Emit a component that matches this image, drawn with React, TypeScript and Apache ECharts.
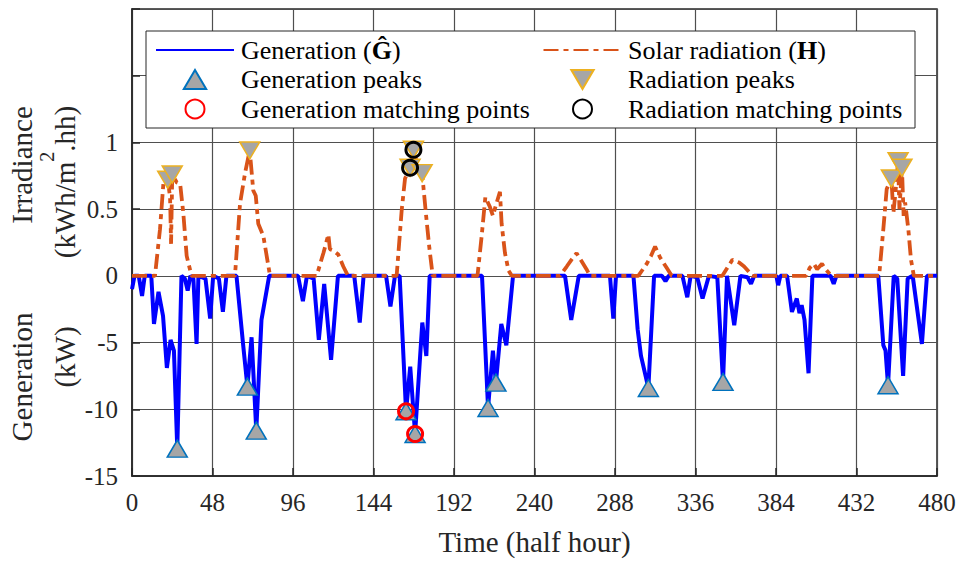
import React, { useEffect, useRef } from 'react';
import * as echarts from 'echarts';

// ---- data (time in half hours) ----
const generation: [number, number][] = [
  [0, -1.0], [1.5, 0], [4, 0], [6, -1.5], [7.6, 0], [11.5, 0], [13.1, -3.6], [15.8, -1.2], [18.5, -3.0],
  [20.8, -6.9], [23, -4.8], [25, -5.6], [27, -12.95], [29.5, 0], [31.5, -0.2], [33.2, -1.1], [34.8, 0],
  [36.6, -0.2], [38.5, -5.1], [39.6, 0], [43.8, -0.2], [46.6, -3.2], [48.4, 0], [51.8, -0.2], [54.2, -2.7],
  [56.3, 0], [62.3, 0], [66.3, -5.2], [68.8, -8.3], [71.3, -4.6], [74.1, -11.6], [77.2, -3.3], [81.8, 0],
  [99, 0], [101.9, -1.9], [104.3, 0], [108.3, -0.2], [111.4, -4.8], [114.6, -0.6], [118.7, -6.3], [122.8, 0],
  [132.5, 0], [135.8, -3.5], [138.1, 0], [151.5, 0], [154.1, -2.3], [156.8, 0], [159.6, 0], [163.4, -10.15],
  [165.9, -6.8], [168.8, -11.85], [173.1, -3.5], [175.5, -6.0], [177.5, 0], [208.7, 0], [212.3, -9.9],
  [215.2, -5.6], [217, -8.0], [220.2, -3.6], [223.2, -5.2], [227.2, 0], [258.2, 0], [261.9, -3.3], [266.4, 0],
  [285, 0], [287, -3.2], [288.6, 0], [299, 0], [301.5, -4.0], [303.5, -6.0], [307.9, -8.4], [311.3, 0],
  [316, 0], [318.1, -0.4], [320, 0], [328.2, 0], [331.1, -1.6], [333.1, 0], [337, -0.1], [340.2, -1.7],
  [344, 0], [349, -0.1], [352.4, -7.95], [354.8, 0], [359.1, -3.7], [362.8, 0], [367, -0.1], [369.1, -0.6],
  [371, 0], [384.2, 0], [385.3, -0.7], [386.6, 0], [390.6, 0], [393.5, -2.7], [396.4, -1.7], [398, -2.8],
  [399.3, -2.2], [401, -3.3], [403.4, -7.3], [405.7, 0], [416.5, 0], [418.4, -0.6], [420, 0], [445, 0],
  [448, -5.2], [449.3, -5.6], [450.8, -8.2], [454.2, 0], [456.3, -0.2], [459.8, -7.5], [462.5, -0.2],
  [465.5, 0], [471, -5.1], [474, 0], [480, 0],
];

const irradiance: [number, number][] = [
  [0, 0], [13.7, 0], [16.7, 0.35], [18.7, 0.69], [21.3, 0.72], [22.7, 0.59], [23.3, 0.24], [24, 0.76],
  [26.7, 0.7], [28.7, 0.69], [30.6, 0.47], [32.6, 0.15], [35.5, 0], [61.4, 0], [64.4, 0.54], [67.4, 0.77],
  [70.2, 0.94], [72.3, 0.64], [73.8, 0.6], [75.3, 0.39], [78.3, 0.3], [82.3, 0], [110.1, 0], [114.1, 0.17],
  [117.1, 0.31], [118, 0.2], [120, 0.19], [123, 0.16], [126, 0.07], [128.8, 0], [157.8, 0], [160.8, 0.49],
  [162.8, 0.73], [165.8, 0.81], [167.8, 0.945], [170.5, 0.82], [173, 0.77], [175.3, 0.46], [177.3, 0.21],
  [179.3, 0], [206, 0], [208.5, 0.3], [210.7, 0.59], [213.3, 0.52], [215.2, 0.45], [217, 0.53], [219.4, 0.63],
  [220.4, 0.39], [222.4, 0.17], [224.5, 0.04], [226.5, 0], [255.2, 0], [259.2, 0.07], [262, 0.12],
  [265.1, 0.17], [268.1, 0.11], [271, 0.05], [273.1, 0], [301.9, 0], [306.9, 0.09], [309.5, 0.15],
  [311.9, 0.22], [314.8, 0.14], [318.8, 0.06], [321.8, 0], [352, 0], [355, 0.06], [358, 0.12], [360, 0.11],
  [362, 0.1], [365, 0.07], [370, 0], [402, 0], [404.1, 0.06], [406.6, 0.09], [408.5, 0.05], [411.4, 0.09],
  [413.5, 0.05], [417, 0], [445.5, 0], [448, 0.35], [450, 0.65], [452.8, 0.73], [454, 0.47], [455.2, 0.62],
  [456.8, 0.86], [457.6, 0.5], [459.1, 0.81], [460.1, 0.45], [461, 0.55], [462.9, 0.35], [464.5, 0.12],
  [466.2, 0], [480, 0],
];

const generationPeaks: [number, number][] = [
  [27, -12.95], [68.8, -8.3], [74.1, -11.6], [163.4, -10.15], [168.8, -11.85],
  [212.3, -9.9], [217, -8.0], [307.9, -8.4], [352.4, -7.95], [450.8, -8.2],
];
const generationMatches: [number, number][] = [[163.4, -10.15], [168.8, -11.85]];

const radiationPeaks: [number, number][] = [
  [21.3, 0.72], [24, 0.76], [70.2, 0.94], [165.8, 0.81], [167.8, 0.945], [173, 0.77],
  [452.8, 0.73], [456.8, 0.86], [459.1, 0.81],
];
const radiationMatches: [number, number][] = [[165.8, 0.81], [167.8, 0.945]];

const xTickStep = 48;
const xRange = [0, 480];
const yRange = [-15, 20];
const yTickStep = 5;
const yTickLabels = ['-15', '-10', '-5', '0', '0.5', '1', '', ''];
const irradianceScale = 10; // 1 kWh/m2.hh plotted as 10 units on the shared axis

// legend labels: segments of [text, bold]
const legendColumns = [
  ['Generation', 'Generation peaks', 'Generation matching points'],
  ['Solar radiation', 'Radiation peaks', 'Radiation matching points'],
];
const legendLabels: Record<string, [string, boolean][]> = {
  'Generation': [['Generation (', false], ['Ĝ', true], [')', false]],
  'Generation peaks': [['Generation peaks', false]],
  'Generation matching points': [['Generation matching points', false]],
  'Solar radiation': [['Solar radiation (', false], ['H', true], [')', false]],
  'Radiation peaks': [['Radiation peaks', false]],
  'Radiation matching points': [['Radiation matching points', false]],
};
// y-axis unit label: segments of [text, superscript]
const irradianceUnit: [string, boolean][] = [['(kWh/m', false], ['2', true], ['.hh)', false]];

const FONT = 'Liberation Serif';
const UP_TRIANGLE = 'path://M10,0L20,17L0,17Z';
const DOWN_TRIANGLE = 'path://M0,0L20,0L10,17Z';
const NO_SYMBOL = { color: 'rgba(0,0,0,0)', borderColor: 'rgba(0,0,0,0)', borderWidth: 0, opacity: 0 };

export default function App() {
  const ref = useRef<HTMLDivElement>(null);
  useEffect(() => {
    if (!ref.current) return;
    const chart = echarts.init(ref.current, undefined, { renderer: 'svg' });
    const ctx = document.createElement('canvas').getContext('2d') as CanvasRenderingContext2D;
    const textWidth = (text: string, size: number, bold = false) => {
      ctx.font = `${bold ? 'bold ' : ''}${size}px "${FONT}", serif`;
      return ctx.measureText(text).width;
    };
    const scaled = (arr: [number, number][]) => arr.map(([t, v]) => [t, v * irradianceScale]);

    const legendLeft = [155, 542.5];
    const legendTextLeft = [241, 628];
    const legendRowY = [50, 79.5, 109];
    const legends = legendColumns.map((names, ci) => ({
      orient: 'vertical',
      left: legendLeft[ci],
      top: 35.5,
      padding: 0,
      itemWidth: 78,
      itemHeight: 19,
      itemGap: 0.5,
      selectedMode: false,
      z: 6,
      textStyle: { fontFamily: FONT, fontSize: 26, lineHeight: 29, color: '#000' },
      formatter: () => ' ',
      data: names.map((name, ri) => (ri === 0 ? { name, itemStyle: NO_SYMBOL } : name)),
    }));
    const legendTexts: any[] = [];
    legendColumns.forEach((names, ci) =>
      names.forEach((name, ri) => {
        let cx = legendTextLeft[ci];
        legendLabels[name].forEach(([text, bold]) => {
          legendTexts.push({
            type: 'text', z: 7, x: cx, y: legendRowY[ri],
            style: { text, fontFamily: FONT, fontSize: 26, fontWeight: bold ? 'bold' : 'normal', fill: '#000', align: 'left', verticalAlign: 'middle' },
          });
          cx += textWidth(text, 26, bold);
        });
      }),
    );

    const unitSizes = irradianceUnit.map(([, sup]) => (sup ? 20 : 29));
    const unitWidths = irradianceUnit.map(([t], i) => textWidth(t, unitSizes[i]));
    const unitTotal = unitWidths.reduce((a, b) => a + b, 0);
    let uy = 182 + unitTotal / 2;
    const unitTexts = irradianceUnit.map(([text, sup], i) => {
      const el = {
        type: 'text', x: sup ? 47 : 65, y: uy, rotation: Math.PI / 2,
        style: { text, fontFamily: FONT, fontSize: unitSizes[i], fill: '#262626', align: 'left', verticalAlign: 'middle' },
      };
      uy -= unitWidths[i];
      return el;
    });

    chart.setOption({
      animation: false,
      backgroundColor: '#fff',
      textStyle: { fontFamily: FONT },
      grid: {
        left: 132, right: 22, top: 9, bottom: 78.5,
        show: true, borderColor: '#262626', borderWidth: 1.5, backgroundColor: 'transparent',
      },
      xAxis: {
        type: 'value', min: xRange[0], max: xRange[1], interval: xTickStep,
        name: 'Time (half hour)', nameLocation: 'middle', nameGap: 51,
        nameTextStyle: { fontFamily: FONT, fontSize: 29, color: '#262626' },
        axisLine: { show: true, onZero: false, lineStyle: { color: '#262626', width: 1.5 } },
        axisTick: { show: true, inside: true, length: 8, lineStyle: { color: '#262626', width: 1.5 } },
        axisLabel: { fontFamily: FONT, fontSize: 25, color: '#262626', margin: 14 },
        splitLine: { show: true, lineStyle: { color: '#4f4f4f', width: 1.2 } },
      },
      yAxis: {
        type: 'value', min: yRange[0], max: yRange[1], interval: yTickStep,
        axisLine: { show: true, onZero: false, lineStyle: { color: '#262626', width: 1.5 } },
        axisTick: { show: true, inside: true, length: 8, lineStyle: { color: '#262626', width: 1.5 } },
        axisLabel: {
          fontFamily: FONT, fontSize: 25, color: '#262626', margin: 14,
          formatter: (v: number) => yTickLabels[Math.round((v - yRange[0]) / yTickStep)] ?? '',
        },
        splitLine: { show: true, lineStyle: { color: '#4f4f4f', width: 1.2 } },
      },
      legend: legends,
      graphic: {
        elements: [
          { type: 'rect', z: 3, shape: { x: 146, y: 31, width: 769, height: 97 },
            style: { fill: '#fff', stroke: '#262626', lineWidth: 1 } },
          ...legendTexts,
          { type: 'text', x: 22, y: 165, rotation: Math.PI / 2,
            style: { text: 'Irradiance', fontFamily: FONT, fontSize: 29, fill: '#262626', align: 'center', verticalAlign: 'middle' } },
          ...unitTexts,
          { type: 'text', x: 22, y: 377, rotation: Math.PI / 2,
            style: { text: 'Generation', fontFamily: FONT, fontSize: 29, fill: '#262626', align: 'center', verticalAlign: 'middle' } },
          { type: 'text', x: 65, y: 357, rotation: Math.PI / 2,
            style: { text: '(kW)', fontFamily: FONT, fontSize: 29, fill: '#262626', align: 'center', verticalAlign: 'middle' } },
        ],
      },
      series: [
        { name: 'Generation', type: 'line', data: generation, symbol: 'none', z: 2,
          lineStyle: { color: '#0000FF', width: 4 }, itemStyle: { color: '#0000FF' } },
        { name: 'Solar radiation', type: 'line', data: scaled(irradiance), symbol: 'none', z: 2,
          lineStyle: { color: '#D95319', width: 3.8, type: [15, 5, 5, 5] }, itemStyle: { color: '#D95319' } },
        { name: 'Generation peaks', type: 'scatter', data: generationPeaks, symbol: UP_TRIANGLE, symbolSize: [20, 17], z: 3,
          itemStyle: { color: '#A6A6A6', borderColor: '#0072BD', borderWidth: 1.5, opacity: 1 } },
        { name: 'Radiation peaks', type: 'scatter', data: scaled(radiationPeaks), symbol: DOWN_TRIANGLE, symbolSize: [20, 17], z: 3,
          itemStyle: { color: '#A6A6A6', borderColor: '#EDB120', borderWidth: 1.5, opacity: 1 } },
        { name: 'Generation matching points', type: 'scatter', data: generationMatches, symbol: 'circle', symbolSize: 15, z: 4,
          itemStyle: { color: 'rgba(0,0,0,0)', borderColor: '#FF0000', borderWidth: 3, opacity: 1 } },
        { name: 'Radiation matching points', type: 'scatter', data: scaled(radiationMatches), symbol: 'circle', symbolSize: 15, z: 4,
          itemStyle: { color: 'rgba(0,0,0,0)', borderColor: '#000000', borderWidth: 3, opacity: 1 } },
      ],
    });
    return () => chart.dispose();
  }, []);
  return <div ref={ref} style={{ position: 'fixed', left: 0, top: 0, width: 959, height: 561 }} />;
}
